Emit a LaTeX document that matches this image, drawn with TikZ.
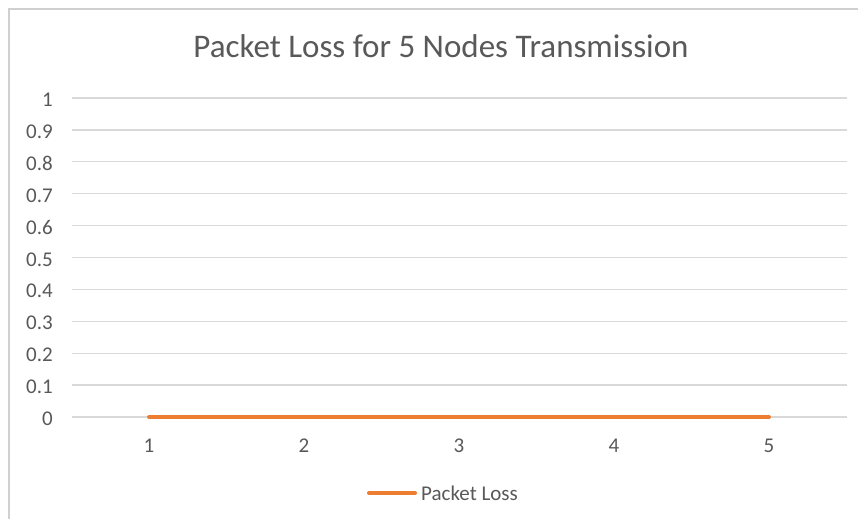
\documentclass[tikz,border=0pt]{standalone}
\usepackage{fontspec}
\setmainfont{Carlito}
\definecolor{txtgray}{HTML}{595959}
\definecolor{gridgray}{HTML}{D9D9D9}
\definecolor{bordergray}{HTML}{D0D0D0}
\definecolor{lossorange}{HTML}{ED7D31}
\tikzset{
  gridline/.style={draw=gridgray, line width=1.3pt},
  ticklabel/.style={text=txtgray, font=\fontsize{21}{24}\selectfont, inner sep=0pt},
  serieslinestyle/.style={draw=lossorange, line width=4pt, line cap=round},
}
\begin{document}
\begin{tikzpicture}[x=1pt,y=-1pt]
\useasboundingbox (0,0) rectangle (858,519);
\fill[white] (0,0) rectangle (858,519);
% chart border
\draw[bordergray, line width=1.2pt] (9,519) -- (9,9) -- (858,9);
% title
\node[anchor=base, text=txtgray, font=\fontsize{33}{38}\selectfont, inner sep=0pt] (title) at (441,58) {Packet Loss for 5 Nodes Transmission};
% grid and y labels
\foreach \v [count=\i from 0] in {0,0.1,0.2,0.3,0.4,0.5,0.6,0.7,0.8,0.9,1} {
  \pgfmathsetmacro{\yy}{417-31.9*\i}
  \draw[gridline] (72,\yy) -- (847,\yy);
  \node[ticklabel, anchor=base east] (y\i) at (53,\yy+8.5) {\v};
}
% x labels
\foreach \k in {1,...,5} {
  \node[ticklabel, anchor=base] (x\k) at (149+155*\k-155,452) {\k};
}
% series
\coordinate (p1) at (149,417);
\coordinate (p5) at (769,417);
\draw[serieslinestyle] (p1) -- (p5);
% legend
\coordinate (l1) at (369,493);
\coordinate (l2) at (415,493);
\draw[serieslinestyle] (l1) -- (l2);
\node[ticklabel, anchor=base west] (legend) at (421,500) {Packet Loss};
\end{tikzpicture}
\end{document}
